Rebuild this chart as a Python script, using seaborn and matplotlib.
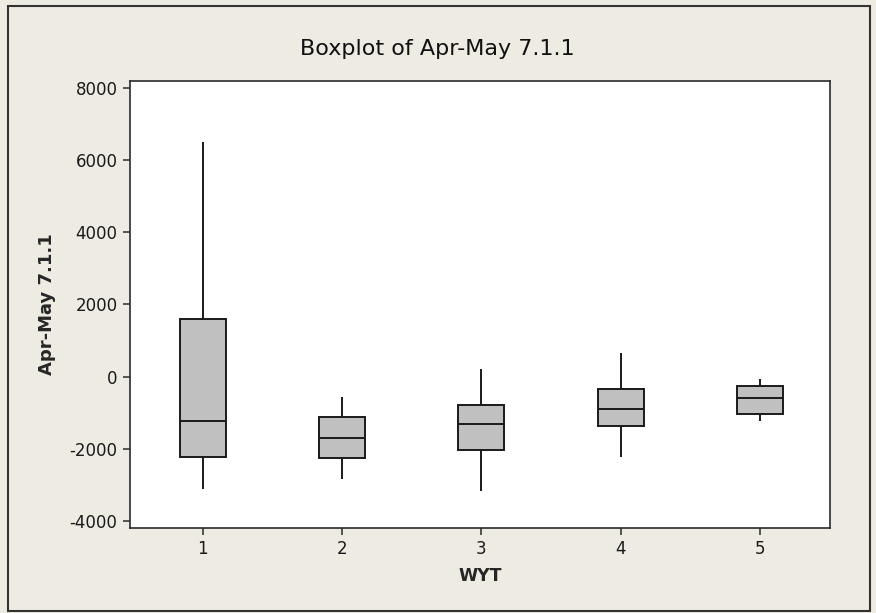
import numpy as np
import pandas as pd
import matplotlib
matplotlib.use("Agg")
import matplotlib.pyplot as plt
from matplotlib.patches import Rectangle
import seaborn as sns

# Water-year type groups and five-number summaries (min, Q1, median, Q3, max)
wyt = ["1", "2", "3", "4", "5"]
low = [-3110, -2840, -3160, -2230, -1230]
q1 = [-2215, -2260, -2040, -1355, -1040]
median = [-1220, -1690, -1300, -895, -600]
q3 = [1590, -1125, -775, -330, -250]
high = [6510, -555, 205, 650, -55]
y_ticks = [-4000, -2000, 0, 2000, 4000, 6000, 8000]

rows = []
for g, a, b, c, d, e in zip(wyt, low, q1, median, q3, high):
    for v in (a, b, c, d, e):
        rows.append({"WYT": g, "Apr-May 7.1.1": v})
df = pd.DataFrame(rows)

sns.set_style("ticks")
plt.rcParams["font.family"] = ["DejaVu Sans"]

bg = "#EEEBE2"
fig = plt.figure(figsize=(8.76, 6.13), dpi=100, facecolor=bg)
ax = fig.add_axes([130 / 876, 1 - 528 / 613, 700 / 876, 447 / 613])
ax.set_facecolor("white")

sns.boxplot(
    data=df, x="WYT", y="Apr-May 7.1.1", order=wyt,
    color="#C0C0C0", saturation=1, width=0.33, whis=(0, 100),
    linecolor="#1a1a1a", linewidth=1.4, showcaps=False, fliersize=0,
    ax=ax,
)

ax.set_xlim(-0.52, 4.5)
ax.set_ylim(-4194, 8194)
ax.set_yticks(y_ticks)
ax.set_yticklabels([str(t) for t in y_ticks])

for s in ax.spines.values():
    s.set_visible(True)
    s.set_color("#2a2a2a")
    s.set_linewidth(1.2)

ax.tick_params(axis="both", direction="out", length=5, width=1.1,
               color="#2a2a2a", labelsize=12, labelcolor="#1a1a1a", pad=4)

ax.set_xlabel("WYT", fontsize=12.5, fontweight="bold", labelpad=6)
ax.set_ylabel("Apr-May 7.1.1", fontsize=13, fontweight="bold", labelpad=10)
fig.text(437 / 876, 1 - 49 / 613, "Boxplot of Apr-May 7.1.1",
         ha="center", va="center", fontsize=16, color="#111111")

# Outer frame around the whole graph window
fig.patches.append(Rectangle((8 / 876, 2 / 613), 862 / 876, 605 / 613,
                             transform=fig.transFigure, fill=False,
                             edgecolor="#333333", linewidth=1.5))

fig.savefig("out.png", dpi=100, facecolor=bg)
